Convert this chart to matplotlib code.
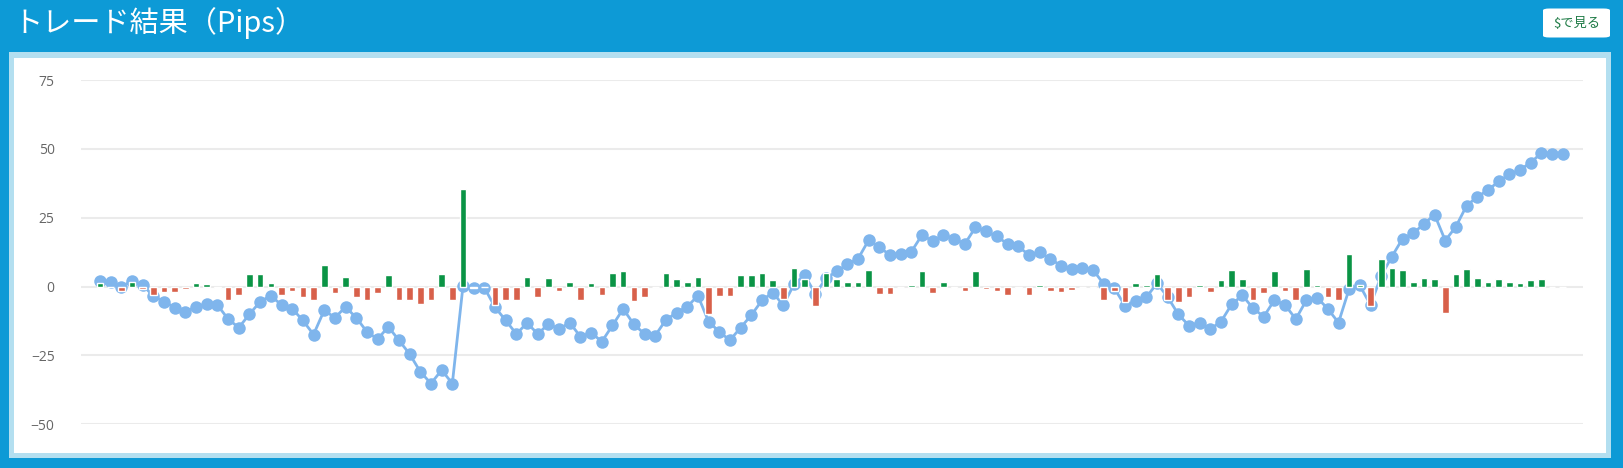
import matplotlib.pyplot as plt
import matplotlib.patches as mpatches
import numpy as np

plt.rcParams['font.family'] = ['Noto Sans CJK JP', 'DejaVu Sans']
plt.rcParams['axes.unicode_minus'] = False

# 各トレードの損益 (pips)
trade_pips = [
    1.2, 0, -1.5, 1.8, -1.0, -3.2, -2.0, -2.1, -1.0, 1.3,
    0.8, -0.6, -4.8, -3.0, 4.5, 4.5, 1.3, -3.0, -1.6, -3.8,
    -4.8, 7.9, -2.5, 3.6, -3.8, -4.8, -2.5, 4.2, -4.8, -4.8,
    -6.2, -4.8, 4.5, -4.8, 35.6, -0.5, 0, -6.8, -4.8, -4.8,
    3.6, -3.9, 3.0, -1.7, 1.8, -4.8, 1.3, -2.9, 5.1, 5.5,
    -5.2, -3.9, 0, 5.1, 2.7, 1.8, 3.6, -10.1, -3.6, -3.3,
    4.2, 4.2, 5.1, 2.3, -4.5, 6.7, 2.7, -6.9, 5.1, 2.8,
    1.8, 1.8, 6.1, -2.8, -2.8, 0, 0.6, 5.5, -2.2, 1.8,
    -0.5, -1.5, 5.5, -1.0, -1.5, -3.1, -0.5, -3.1, 0.5, -1.5,
    -2.0, -1.2, 0, -0.5, -4.8, -1.5, -5.5, 1.3, 0.6, 4.5,
    -4.8, -5.5, -3.8, 0.6, -2.0, 2.3, 6.1, 2.8, -4.8, -2.5,
    5.5, -1.5, -4.8, 6.3, 0.5, -3.9, -4.8, 11.9, 0.5, -7.1,
    10.0, 6.9, 5.9, 1.8, 3.2, 2.7, -9.5, 4.5, 6.3, 3.2,
    1.8, 2.7, 1.8, 1.3, 2.3, 2.7, 0, 0,
]

# 累計 (pips)
total_pips = [
    2.1, 1.6, -0.1, 2.1, 0.5, -3.4, -5.5, -7.6, -9.1, -7.3,
    -6.3, -6.7, -11.8, -14.9, -10.0, -5.5, -3.3, -6.7, -8.0, -12.3,
    -17.4, -8.6, -11.3, -7.4, -11.3, -16.4, -19.1, -14.6, -19.5, -24.5,
    -30.9, -35.2, -30.3, -35.2, 0.3, -0.6, -0.4, -7.5, -12.3, -17.2,
    -13.2, -17.2, -13.6, -15.4, -13.1, -18.2, -16.7, -20.0, -14.1, -8.1,
    -13.7, -17.2, -17.8, -12.1, -9.5, -7.3, -3.3, -12.7, -16.4, -19.5,
    -14.9, -10.4, -5.0, -2.2, -6.7, 0.8, 4.2, -2.7, 3.0, 5.5,
    8.1, 10.1, 16.9, 14.2, 11.5, 12.0, 12.7, 18.8, 16.4, 18.8,
    17.4, 15.5, 21.5, 20.0, 18.2, 15.5, 14.6, 11.5, 12.4, 10.1,
    7.6, 6.4, 6.9, 6.1, 1.0, -0.6, -6.9, -5.1, -3.9, 1.2,
    -3.8, -10.1, -14.2, -13.1, -15.4, -12.7, -6.4, -3.2, -7.9, -10.9,
    -4.9, -6.7, -11.8, -4.9, -4.0, -8.1, -13.1, -0.8, 0.4, -6.7,
    3.9, 10.9, 17.4, 19.3, 22.8, 26.1, 16.7, 21.8, 29.4, 32.6,
    35.0, 38.2, 40.7, 42.4, 45.0, 48.5, 48.3, 48.3,
]

y_ticks = [-50, -25, 0, 25, 50, 75]
y_labels = ['−50', '−25', '0', '25', '50', '75']

W, H = 1623, 468
fig = plt.figure(figsize=(W / 100, H / 100), dpi=100)
fig.patch.set_facecolor('#0d9ad6')


def px_rect(x0, y0, x1, y1, color):
    # ピクセル座標(左上原点)で矩形を置く
    fig.patches.append(mpatches.Rectangle(
        (x0 / W, 1 - y1 / H), (x1 - x0) / W, (y1 - y0) / H,
        transform=fig.transFigure, facecolor=color, edgecolor='none', zorder=-5))


px_rect(9, 52, 1611, 458, '#b3dff0')
px_rect(14, 58, 1606, 453, 'white')

# ヘッダー
fig.text(13 / W, 1 - 23 / H, 'トレード結果（Pips）', color='white',
         fontsize=21, va='center', ha='left')
btn = mpatches.FancyBboxPatch((1543 / W, 1 - 37.5 / H), 67 / W, 29 / H,
                              boxstyle='round,pad=0,rounding_size=0.004',
                              transform=fig.transFigure, facecolor='white',
                              edgecolor='none', zorder=-4)
fig.patches.append(btn)
fig.text(1577 / W, 1 - 23.5 / H, '$で見る', color='#1d7a45',
         fontsize=9.5, va='center', ha='center')

# グラフ
ax = fig.add_axes([81 / W, 1 - 424.3 / H, 1502 / W, 344.3 / H])
ax.set_zorder(5)
x = np.arange(len(trade_pips))
colors = ['#0a9445' if v >= 0 else '#d8604a' for v in trade_pips]

ax.plot(x, total_pips, color='#7fb5ec', lw=2, marker='o', ms=9,
        markeredgewidth=0, zorder=2, clip_on=False)
ax.bar(x, trade_pips, width=0.62, color=colors, edgecolor='white',
       linewidth=1.0, zorder=3)

ax.set_ylim(-50, 75)
ax.set_xlim(-1.78, 138.9)
ax.set_yticks(y_ticks)
ax.set_yticklabels(y_labels, family=['Open Sans', 'DejaVu Sans'])
ax.set_xticks([])
ax.tick_params(axis='y', length=0, pad=19, labelsize=10, labelcolor='#666666')
ax.grid(axis='y', color='#ebebeb', lw=1.5, zorder=0)
ax.set_axisbelow(True)
for s in ax.spines.values():
    s.set_visible(False)
ax.set_facecolor('none')

plt.savefig('out.png', dpi=100, facecolor=fig.get_facecolor())
